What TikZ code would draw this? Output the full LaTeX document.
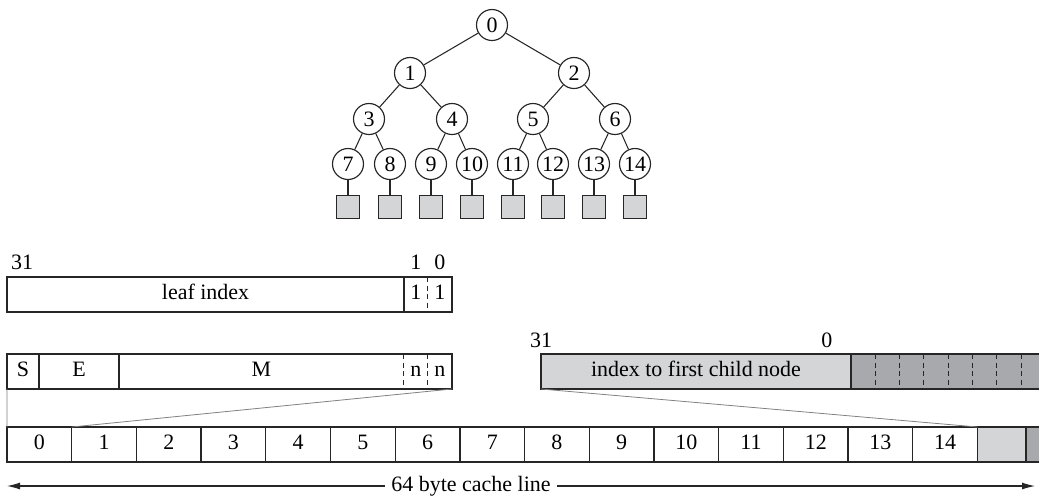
\documentclass[tikz,border=0pt]{standalone}
\usepackage{fontspec}
\setmainfont{Liberation Serif}
\usetikzlibrary{positioning, arrows.meta}
\definecolor{slotlight}{HTML}{D4D5D7}
\definecolor{slotdark}{HTML}{A8A9AC}

\begin{document}
\begin{tikzpicture}[
    x=0.02cm, y=-0.02cm,
    font=\fontsize{12.5}{14}\selectfont,
    tnode/.style={circle, draw=black!85, line width=0.65pt, fill=white, minimum size=0.62cm, inner sep=0pt},
    leafbox/.style={rectangle, draw=black!85, line width=0.65pt, fill=slotlight, minimum size=0.46cm, inner sep=0pt},
    branch/.style={line width=0.6pt, draw=black!85},
    field/.style={rectangle, minimum height=0.7cm, inner sep=0pt, outer sep=0pt, text height=1.6ex, text depth=0.25ex},
    cell/.style={field, draw=black!85, line width=0.75pt, minimum width=1.294cm},
    frame/.style={line width=0.75pt, draw=black!85},
    divdash/.style={line width=0.6pt, draw=black!85, dash pattern=on 1mm off 0.7mm},
    bitlbl/.style={inner sep=0pt, outer sep=0pt},
    proj/.style={line width=0.45pt, draw=black!50},
    arr/.style={-{Latex[length=2.6mm, width=1.4mm]}, line width=0.6pt, draw=black!85}
]
    \useasboundingbox (0,0) rectangle (1039,495);
    \clip (0,0) rectangle (1039,495);

    % implicit binary tree
    \node[tnode] (n0) at (492,25) {0};
    \node[tnode] (n1) at (410,73) {1};
    \node[tnode] (n2) at (574,73) {2};
    \node[tnode] (n3) at (369,119) {3};
    \node[tnode] (n4) at (452,119) {4};
    \node[tnode] (n5) at (533,119) {5};
    \node[tnode] (n6) at (615,119) {6};
    \node[tnode] (n7) at (348,164) {7};
    \node[tnode] (n8) at (390,164) {8};
    \node[tnode] (n9) at (431,164) {9};
    \node[tnode] (n10) at (472,164) {10};
    \node[tnode] (n11) at (513,164) {11};
    \node[tnode] (n12) at (553,164) {12};
    \node[tnode] (n13) at (594,164) {13};
    \node[tnode] (n14) at (635,164) {14};

    \draw[branch] (n0) -- (n1);
    \draw[branch] (n0) -- (n2);
    \draw[branch] (n1) -- (n3);
    \draw[branch] (n1) -- (n4);
    \draw[branch] (n2) -- (n5);
    \draw[branch] (n2) -- (n6);
    \draw[branch] (n3) -- (n7);
    \draw[branch] (n3) -- (n8);
    \draw[branch] (n4) -- (n9);
    \draw[branch] (n4) -- (n10);
    \draw[branch] (n5) -- (n11);
    \draw[branch] (n5) -- (n12);
    \draw[branch] (n6) -- (n13);
    \draw[branch] (n6) -- (n14);

    \foreach \i in {7,...,14} {
        \node[leafbox] (lf\i) [below=0.29cm of n\i] {};
        \draw[branch] (n\i) -- (lf\i);
    }

    % leaf word
    \node[field, minimum width=7.94cm] (leaf) at (205.5,294.5) {leaf index};
    \node[field, minimum width=0.48cm] (lb1) [right=0pt of leaf] {1};
    \node[field, minimum width=0.48cm] (lb0) [right=0pt of lb1] {1};
    \draw[frame] (leaf.north west) rectangle (lb0.south east);
    \draw[frame] (leaf.north east) -- (leaf.south east);
    \draw[divdash] (lb0.north west) -- (lb0.south west);

    \node[bitlbl] (l31) [above right=0.15cm and 0.08cm of leaf.north west] {31};
    \node[bitlbl] (l1) [above=0.15cm of lb1.north] {1};
    \node[bitlbl] (l0) [above=0.15cm of lb0.north] {0};

    % inner node word
    \node[field, minimum width=0.64cm] (sgn) at (23,371.5) {S};
    \node[field, minimum width=1.6cm] (expo) [right=0pt of sgn] {E};
    \node[field, minimum width=5.7cm] (mant) [right=0pt of expo] {M};
    \node[field, minimum width=0.48cm] (nb1) [right=0pt of mant] {n};
    \node[field, minimum width=0.48cm] (nb0) [right=0pt of nb1] {n};
    \draw[frame] (sgn.north west) rectangle (nb0.south east);
    \draw[frame] (sgn.north east) -- (sgn.south east);
    \draw[frame] (expo.north east) -- (expo.south east);
    \draw[divdash] (nb1.north west) -- (nb1.south west);
    \draw[divdash] (nb0.north west) -- (nb0.south west);

    % child index word
    \node[field, draw=black!85, line width=0.75pt, fill=slotlight, minimum width=6.2cm] (idx) at (696,371.5) {index to first child node};
    \node[field, draw=black!85, line width=0.75pt, fill=slotdark, minimum width=3.88cm] (pad) [right=0pt of idx] {};
    \foreach \k in {1,...,7}
        \draw[divdash] ([xshift=\k*0.486cm]pad.north west) -- ([xshift=\k*0.486cm]pad.south west);

    \node[bitlbl] (i31) [above=0.13cm of idx.north west] {31};
    \node[bitlbl, xshift=-0.48cm] (i0) [above=0.13cm of idx.north east] {0};

    % cache line
    \foreach \i in {0,...,14}
        \node[cell] (c\i) at ({7+64.7*(\i+0.5)},444.5) {\i};
    \node[cell, fill=slotlight, minimum width=0.97cm] (spare) [right=0pt of c14] {};
    \node[cell, fill=slotdark, minimum width=0.33cm] (tail) [right=0pt of spare] {};

    \draw[proj] (sgn.south west) -- (c0.north west);
    \draw[proj] (nb0.south east) -- (c0.north east);
    \draw[proj] (idx.south west) -- (spare.north west);

    \node (span) at (471,486) {64 byte cache line};
    \coordinate (spanL) at (c0.south west |- span);
    \coordinate (spanR) at (1035,486);
    \draw[arr] (span) -- (spanL);
    \draw[arr] (span) -- (spanR);
\end{tikzpicture}
\end{document}
